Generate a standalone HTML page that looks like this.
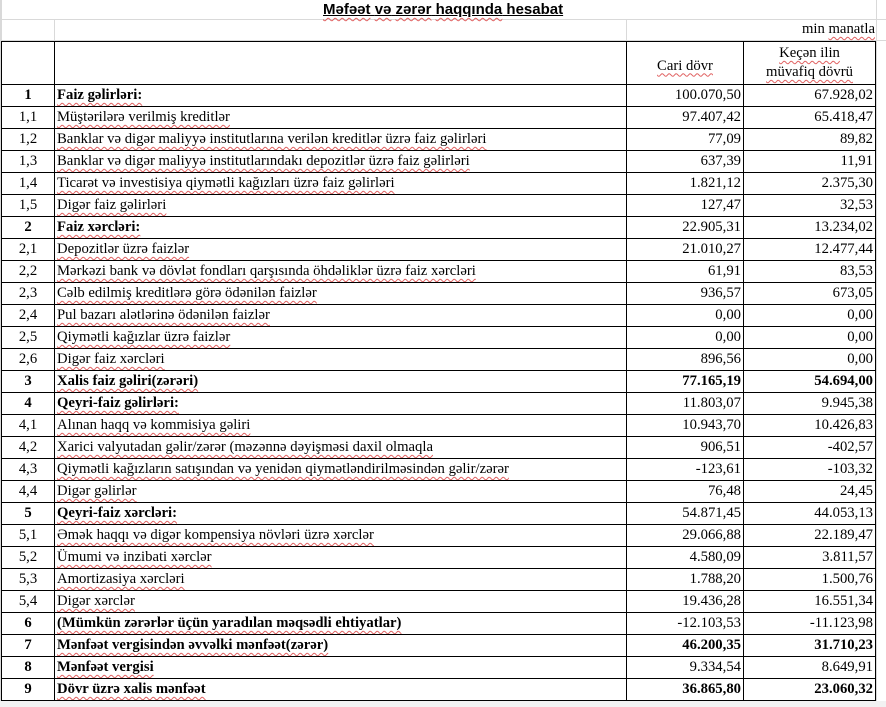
<!DOCTYPE html>
<html><head><meta charset="utf-8"><style>
html,body{margin:0;padding:0;background:#fff;width:886px;height:707px;overflow:hidden;position:relative}
.t{position:absolute;left:323px;top:0;font:bold 15px "Liberation Sans",sans-serif;text-decoration:underline;line-height:19px;color:#000}
.g{position:absolute;background:#d9d9d9}
table{position:absolute;left:1px;top:41px;border-collapse:collapse;table-layout:fixed;font:14.7px "Liberation Serif",serif;color:#000}
td{border:1.5px solid #000;height:21px;padding:0 2px;white-space:nowrap;overflow:hidden;line-height:21px}
td.n{text-align:center}
td.v{text-align:right}
.w{text-decoration:underline wavy #e06060 1px;text-underline-offset:3px}
b{font-weight:bold}
.mm{position:absolute;left:626px;top:21px;width:249px;text-align:right;font:14.7px "Liberation Serif",serif}
</style></head><body>
<div class="g" style="left:0;top:19px;width:886px;height:1px"></div>
<div class="g" style="left:0;top:40px;width:886px;height:1px"></div>
<div class="g" style="left:54px;top:19px;width:1px;height:22px"></div>
<div class="g" style="left:626px;top:19px;width:1px;height:22px"></div>
<div class="g" style="left:876px;top:0;width:1px;height:707px"></div>
<div class="g" style="left:0;top:0;width:2px;height:707px"></div>
<div class="g" style="left:0;top:701px;width:886px;height:6px;background:#f2f2f2"></div>
<div class="t"><span class="w">Məfəət</span> <span class="w">və</span> <span class="w">zərər</span> <span class="w">haqqında</span> hesabat</div>
<div class="mm">min <span class="w">manatla</span></div>
<table>
<colgroup><col style="width:53px"><col style="width:572px"><col style="width:117px"><col style="width:132px"></colgroup>
<tr><td style="height:42px"></td><td></td><td style="text-align:center;padding-top:6px"><span class="w">Cari dövr</span></td><td style="text-align:center;line-height:19px"><span class="w">Keçən ilin</span><br><span class="w">müvafiq dövrü</span></td></tr>
<tr><td class="n"><b>1</b></td><td><b class="w">Faiz gəlirləri:</b></td><td class="v">100.070,50</td><td class="v">67.928,02</td></tr>
<tr><td class="n">1,1</td><td><span class="w">Müştərilərə verilmiş kreditlər</span></td><td class="v">97.407,42</td><td class="v">65.418,47</td></tr>
<tr><td class="n">1,2</td><td><span class="w">Banklar və digər maliyyə institutlarına verilən kreditlər üzrə faiz gəlirləri</span></td><td class="v">77,09</td><td class="v">89,82</td></tr>
<tr><td class="n">1,3</td><td><span class="w">Banklar və digər maliyyə institutlarındakı depozitlər üzrə faiz gəlirləri</span></td><td class="v">637,39</td><td class="v">11,91</td></tr>
<tr><td class="n">1,4</td><td><span class="w">Ticarət və investisiya qiymətli kağızları üzrə faiz gəlirləri</span></td><td class="v">1.821,12</td><td class="v">2.375,30</td></tr>
<tr><td class="n">1,5</td><td><span class="w">Digər faiz gəlirləri</span></td><td class="v">127,47</td><td class="v">32,53</td></tr>
<tr><td class="n"><b>2</b></td><td><b class="w">Faiz xərcləri:</b></td><td class="v">22.905,31</td><td class="v">13.234,02</td></tr>
<tr><td class="n">2,1</td><td><span class="w">Depozitlər üzrə faizlər</span></td><td class="v">21.010,27</td><td class="v">12.477,44</td></tr>
<tr><td class="n">2,2</td><td><span class="w">Mərkəzi bank və dövlət fondları qarşısında öhdəliklər üzrə faiz xərcləri</span></td><td class="v">61,91</td><td class="v">83,53</td></tr>
<tr><td class="n">2,3</td><td><span class="w">Cəlb edilmiş kreditlərə görə ödənilən faizlər</span></td><td class="v">936,57</td><td class="v">673,05</td></tr>
<tr><td class="n">2,4</td><td><span class="w">Pul bazarı alətlərinə ödənilən faizlər</span></td><td class="v">0,00</td><td class="v">0,00</td></tr>
<tr><td class="n">2,5</td><td><span class="w">Qiymətli kağızlar üzrə faizlər</span></td><td class="v">0,00</td><td class="v">0,00</td></tr>
<tr><td class="n">2,6</td><td><span class="w">Digər faiz xərcləri</span></td><td class="v">896,56</td><td class="v">0,00</td></tr>
<tr><td class="n"><b>3</b></td><td><b class="w">Xalis faiz gəliri(zərəri)</b></td><td class="v"><b>77.165,19</b></td><td class="v"><b>54.694,00</b></td></tr>
<tr><td class="n"><b>4</b></td><td><b class="w">Qeyri-faiz gəlirləri:</b></td><td class="v">11.803,07</td><td class="v">9.945,38</td></tr>
<tr><td class="n">4,1</td><td><span class="w">Alınan haqq və kommisiya gəliri</span></td><td class="v">10.943,70</td><td class="v">10.426,83</td></tr>
<tr><td class="n">4,2</td><td><span class="w">Xarici valyutadan gəlir/zərər (məzənnə dəyişməsi daxil olmaqla</span></td><td class="v">906,51</td><td class="v">-402,57</td></tr>
<tr><td class="n">4,3</td><td><span class="w">Qiymətli kağızların satışından və yenidən qiymətləndirilməsindən gəlir/zərər</span></td><td class="v">-123,61</td><td class="v">-103,32</td></tr>
<tr><td class="n">4,4</td><td><span class="w">Digər gəlirlər</span></td><td class="v">76,48</td><td class="v">24,45</td></tr>
<tr><td class="n"><b>5</b></td><td><b class="w">Qeyri-faiz xərcləri:</b></td><td class="v">54.871,45</td><td class="v">44.053,13</td></tr>
<tr><td class="n">5,1</td><td><span class="w">Əmək haqqı və digər kompensiya növləri üzrə xərclər</span></td><td class="v">29.066,88</td><td class="v">22.189,47</td></tr>
<tr><td class="n">5,2</td><td><span class="w">Ümumi və inzibati xərclər</span></td><td class="v">4.580,09</td><td class="v">3.811,57</td></tr>
<tr><td class="n">5,3</td><td><span class="w">Amortizasiya xərcləri</span></td><td class="v">1.788,20</td><td class="v">1.500,76</td></tr>
<tr><td class="n">5,4</td><td><span class="w">Digər xərclər</span></td><td class="v">19.436,28</td><td class="v">16.551,34</td></tr>
<tr><td class="n"><b>6</b></td><td><b class="w">(Mümkün zərərlər üçün yaradılan məqsədli ehtiyatlar)</b></td><td class="v">-12.103,53</td><td class="v">-11.123,98</td></tr>
<tr><td class="n"><b>7</b></td><td><b class="w">Mənfəət vergisindən əvvəlki mənfəət(zərər)</b></td><td class="v"><b>46.200,35</b></td><td class="v"><b>31.710,23</b></td></tr>
<tr><td class="n"><b>8</b></td><td><b class="w">Mənfəət vergisi</b></td><td class="v">9.334,54</td><td class="v">8.649,91</td></tr>
<tr><td class="n"><b>9</b></td><td><b class="w">Dövr üzrə xalis mənfəət</b></td><td class="v"><b>36.865,80</b></td><td class="v"><b>23.060,32</b></td></tr>
</table>
</body></html>
